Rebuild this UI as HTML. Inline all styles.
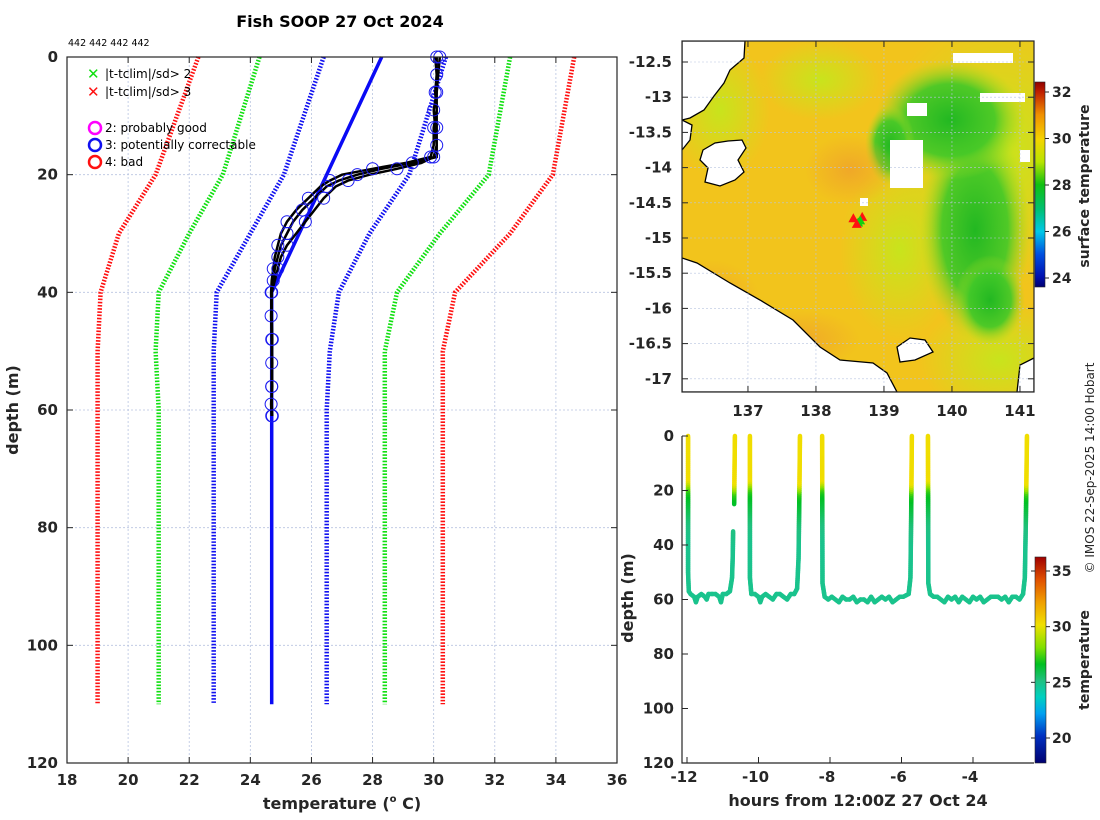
<!DOCTYPE html>
<html><head><meta charset="utf-8"><style>
body{margin:0;background:#fff;}
svg{display:block;font-family:"DejaVu Sans","Liberation Sans",sans-serif;}
.b{font-weight:bold;}
</style></head><body>
<svg id="s" width="1100" height="820" viewBox="0 0 1100 820">
<defs>
<clipPath id="mapclip"><rect x="682" y="41" width="352" height="351"/></clipPath>
<linearGradient id="cb1" x1="0" y1="1" x2="0" y2="0">
<stop offset="0" stop-color="#000070"/><stop offset="0.05" stop-color="#0010b0"/><stop offset="0.16" stop-color="#0050e0"/><stop offset="0.27" stop-color="#00c8e8"/><stop offset="0.38" stop-color="#00c070"/><stop offset="0.50" stop-color="#10c010"/><stop offset="0.61" stop-color="#b8e400"/><stop offset="0.72" stop-color="#f4d400"/><stop offset="0.84" stop-color="#f09000"/><stop offset="0.95" stop-color="#c02000"/><stop offset="1" stop-color="#900000"/></linearGradient>
<linearGradient id="cb2" x1="0" y1="1" x2="0" y2="0">
<stop offset="0" stop-color="#000070"/><stop offset="0.13" stop-color="#0030c0"/><stop offset="0.24" stop-color="#00a0f0"/><stop offset="0.32" stop-color="#00d0c0"/><stop offset="0.40" stop-color="#20c080"/><stop offset="0.48" stop-color="#00c020"/><stop offset="0.56" stop-color="#80e000"/><stop offset="0.67" stop-color="#f0e000"/><stop offset="0.78" stop-color="#f0a000"/><stop offset="0.89" stop-color="#e05000"/><stop offset="1" stop-color="#a00000"/></linearGradient>
<radialGradient id="g1" cx="0.5" cy="0.5" r="0.5"><stop offset="0" stop-color="#22b822"/><stop offset="0.6" stop-color="#40c828" stop-opacity="0.9"/><stop offset="1" stop-color="#a8dc20" stop-opacity="0"/></radialGradient>
<radialGradient id="g2" cx="0.5" cy="0.5" r="0.5"><stop offset="0" stop-color="#c8e41c"/><stop offset="1" stop-color="#c8e41c" stop-opacity="0"/></radialGradient>
<radialGradient id="g3" cx="0.5" cy="0.5" r="0.5"><stop offset="0" stop-color="#f0a828"/><stop offset="1" stop-color="#f0a828" stop-opacity="0"/></radialGradient>
</defs>
<g id="main"></g>
<g id="map"></g>
<g id="bot"></g>
</svg>
<script>
// ===== left chart data =====
const tickX=[18,20,22,24,26,28,30,32,34,36];
const tickY=[0,20,40,60,80,100,120];
const climDepth=[0,20,30,40,50,60,110];
const climRed1=[22.3,20.9,19.7,19.1,19.0,19.0,19.0];
const climGreen1=[24.3,23.1,22.0,21.0,20.9,21.0,21.0];
const climBlue1=[26.4,25.1,24.0,22.9,22.8,22.8,22.8];
const climBlue2=[30.4,29.2,27.9,26.9,26.6,26.5,26.5];
const climGreen2=[32.5,31.8,30.2,28.8,28.4,28.4,28.4];
const climRed2=[34.6,33.9,32.5,30.7,30.3,30.3,30.3];
const solidDepth=[0,40,110];
const solidTemp=[28.3,24.7,24.7];
const profDepth=[0,3,6,9,12,15,17,18,19,20,21,22,24,26,28,30,32,34,36,38,40,44,48,52,56,59,61];
const profA=[30.1,30.1,30.05,30.1,30.1,30.1,30.0,29.6,28.8,27.9,27.2,26.8,26.4,26.1,25.8,25.5,25.2,25.0,24.9,24.8,24.7,24.7,24.7,24.72,24.7,24.7,24.72];
const profB=[30.05,30.1,30.1,30.0,30.05,30.1,30.1,29.3,28.3,27.5,26.9,26.5,26.1,25.7,25.4,25.2,25.0,24.9,24.8,24.75,24.7,24.68,24.7,24.7,24.72,24.68,24.7];
const profC=[30.2,30.15,30.1,30.1,30.0,30.0,29.9,29.1,28.0,27.0,26.6,26.3,25.9,25.5,25.2,25.0,24.9,24.8,24.75,24.7,24.68,24.7,24.72,24.7,24.7,24.7,24.7];
// ===== map data =====
const latTicks=[-12.5,-13,-13.5,-14,-14.5,-15,-15.5,-16,-16.5,-17];
const lonTicks=[137,138,139,140,141];
const sstTicks=[24,26,28,30,32];
const shipLon=[138.55,138.62,138.68,138.65,138.6];
const shipLat=[-14.72,-14.78,-14.7,-14.75,-14.8];
// ===== bottom chart data =====
const hourTicks=[-12,-10,-8,-6,-4];
const bdepthTicks=[0,20,40,60,80,100,120];
const tempTicks=[20,25,30,35];
const seg1H=[-11.97,-11.97,-11.95,-11.9,-11.8,-11.75,-11.7,-11.6,-11.5,-11.45,-11.4,-11.3,-11.2,-11.1,-11.05,-11.0,-10.9,-10.8,-10.74,-10.72,-10.71];
const seg1D=[0,50,57,58,59,61,59,58,59,60,58,58,58,59,61,58,58,57,52,44,35];
const seg1bH=[-10.68,-10.67,-10.66];
const seg1bD=[25,12,0];
const seg2H=[-10.24,-10.24,-10.2,-10.1,-10.0,-9.95,-9.9,-9.8,-9.7,-9.6,-9.5,-9.4,-9.3,-9.2,-9.1,-9.0,-8.92,-8.88,-8.86,-8.84];
const seg2D=[0,52,58,58,59,61,59,58,59,60,58,58,59,60,58,58,56,45,25,0];
const seg3H=[-8.22,-8.21,-8.15,-8.05,-7.95,-7.85,-7.75,-7.65,-7.55,-7.45,-7.35,-7.25,-7.15,-7.05,-6.95,-6.85,-6.75,-6.65,-6.55,-6.45,-6.35,-6.25,-6.15,-6.05,-5.95,-5.8,-5.75,-5.73,-5.71];
const seg3D=[0,54,59,60,59,60,61,59,60,60,59,61,60,60,61,59,61,60,59,60,59,61,60,59,59,58,52,30,0];
const seg4H=[-5.26,-5.25,-5.2,-5.1,-5.0,-4.9,-4.8,-4.7,-4.6,-4.5,-4.4,-4.3,-4.2,-4.1,-4.0,-3.9,-3.8,-3.7,-3.6,-3.5,-3.4,-3.3,-3.2,-3.1,-3.0,-2.9,-2.8,-2.7,-2.6,-2.55,-2.52,-2.49];
const seg4D=[0,54,58,59,59,60,61,59,60,59,61,59,60,61,59,60,59,61,60,59,59,59,60,59,61,59,59,60,58,52,30,0];

const NS='http://www.w3.org/2000/svg';
function mk(tag,attrs,parent,txt){const e=document.createElementNS(NS,tag);for(const k in attrs)e.setAttribute(k,attrs[k]);if(txt!==undefined)e.textContent=txt;parent.appendChild(e);return e;}
const svg=document.getElementById('s');
const M=document.getElementById('main');
// ---- main axes ----
const X0=67,X1=617,Y0=57,Y1=763;
const xs=t=>X0+(t-18)/(36-18)*(X1-X0);
const ys=d=>Y0+d/120*(Y1-Y0);
let t=mk('text',{x:340,y:27,'text-anchor':'middle','font-size':16,class:'b'},svg,'Fish SOOP 27 Oct 2024');


t=mk('text',{x:68,y:46,'font-size':9.5},svg,'442 442 442 442');


tickX.forEach(v=>{
 const g=mk('line',{x1:xs(v),x2:xs(v),y1:Y0,y2:Y1,stroke:'#b8c4e0','stroke-width':0.8,'stroke-dasharray':'2,2'},M);
 
 
 const tk=mk('text',{x:xs(v),y:785,'text-anchor':'middle','font-size':15,class:'b',fill:'#262626'},M,String(v));
 
 
 mk('line',{x1:xs(v),x2:xs(v),y1:Y1,y2:Y1-6,stroke:'#262626'},M);
 mk('line',{x1:xs(v),x2:xs(v),y1:Y0,y2:Y0+6,stroke:'#262626'},M);
});
tickY.forEach(v=>{
 const g=mk('line',{x1:X0,x2:X1,y1:ys(v),y2:ys(v),stroke:'#b8c4e0','stroke-width':0.8,'stroke-dasharray':'2,2'},M);
 
 
 const tk=mk('text',{x:X0-9,y:ys(v)+5,'text-anchor':'end','font-size':15,class:'b',fill:'#262626'},M,String(v));
 
 
 mk('line',{x1:X0,x2:X0+6,y1:ys(v),y2:ys(v),stroke:'#262626'},M);
 mk('line',{x1:X1,x2:X1-6,y1:ys(v),y2:ys(v),stroke:'#262626'},M);
});
function line(depths,temps,attrs,name){
 const p=depths.map((d,i)=>xs(temps[i]).toFixed(1)+','+ys(d).toFixed(1)).join(' ');
 const e=mk('polyline',Object.assign({points:p,fill:'none'},attrs),M);
 
 
 return e;
}
const dash={'stroke-width':4.5,'stroke-dasharray':'1.6,1.6'};
line(climDepth,climRed1,Object.assign({stroke:'#ff1010'},dash),'clim-minus-3sd-line');
line(climDepth,climGreen1,Object.assign({stroke:'#10e010'},dash),'clim-minus-2sd-line');
line(climDepth,climBlue1,Object.assign({stroke:'#1010f0'},dash),'clim-minus-1sd-line');
line(climDepth,climBlue2,Object.assign({stroke:'#1010f0'},dash),'clim-plus-1sd-line');
line(climDepth,climGreen2,Object.assign({stroke:'#10e010'},dash),'clim-plus-2sd-line');
line(climDepth,climRed2,Object.assign({stroke:'#ff1010'},dash),'clim-plus-3sd-line');
line(solidDepth,solidTemp,{stroke:'#0a0af5','stroke-width':3.5},'climatology-mean-line');
[profA,profB,profC].forEach((p,k)=>{
 line(profDepth,p,{stroke:'#000','stroke-width':2.5},'profile-line');
});
[profA,profB,profC].forEach((p,k)=>{
 profDepth.forEach((d,i)=>{
  if((i+k)%2) return;
  const c=mk('circle',{cx:xs(p[i]),cy:ys(d),r:6,fill:'none',stroke:'#1a1af0','stroke-width':1},M);
  
  
 });
});
let fr=mk('rect',{x:X0,y:Y0,width:X1-X0,height:Y1-Y0,fill:'none',stroke:'#262626','stroke-width':1.2},M);


// legend
const lg=mk('g',{},M);


[['#10e010','|t-tclim|/sd> 2',74],['#ff1010','|t-tclim|/sd> 3',92]].forEach(a=>{
 const x=mk('text',{x:87,y:a[2]+5,'font-size':15,fill:a[0],class:'b'},lg,'✕');
 
 
 const tx=mk('text',{x:105,y:a[2]+4,'font-size':12},lg,a[1]);
 
 
});
[['#ff00ff','2: probably good',128],['#1010f0','3: potentially correctable',145],['#ff1010','4: bad',162]].forEach(a=>{
 const c=mk('circle',{cx:95,cy:a[2],r:6,fill:'none',stroke:a[0],'stroke-width':2.5},lg);
 
 
 const tx=mk('text',{x:105,y:a[2]+4,'font-size':12},lg,a[1]);
 
 
});
t=mk('text',{x:342,y:809,'text-anchor':'middle','font-size':16,class:'b',fill:'#262626'},svg);
t.innerHTML='temperature (<tspan font-size="10" dy="-7">o</tspan><tspan dy="7"> C)</tspan>';


t=mk('text',{x:0,y:0,'text-anchor':'middle','font-size':16,class:'b',fill:'#262626',transform:'translate(18,410) rotate(-90)'},svg,'depth (m)');



// ---- map ----
const MP=document.getElementById('map');
const mx=l=>682+(l-136.03)*68;
const my=l=>62+(-12.5-l)*70.4;
const mg=mk('g',{'clip-path':'url(#mapclip)'},MP);


mk('rect',{x:682,y:41,width:352,height:351,fill:'#f2c41c'},mg);
mk('ellipse',{cx:720,cy:110,rx:50,ry:70,fill:'url(#g2)'},mg);
mk('ellipse',{cx:820,cy:80,rx:60,ry:40,fill:'url(#g2)'},mg);
mk('ellipse',{cx:1000,cy:150,rx:120,ry:140,fill:'url(#g2)'},mg);
mk('ellipse',{cx:1000,cy:360,rx:80,ry:60,fill:'url(#g2)'},mg);
mk('ellipse',{cx:900,cy:250,rx:60,ry:90,fill:'url(#g2)'},mg);
mk('ellipse',{cx:975,cy:230,rx:55,ry:110,fill:'url(#g1)'},mg);
mk('ellipse',{cx:950,cy:120,rx:75,ry:60,fill:'url(#g1)'},mg);
mk('ellipse',{cx:990,cy:300,rx:35,ry:45,fill:'url(#g1)'},mg);
mk('ellipse',{cx:890,cy:145,rx:25,ry:40,fill:'url(#g1)'},mg);
mk('ellipse',{cx:710,cy:300,rx:50,ry:40,fill:'url(#g3)'},mg);
mk('ellipse',{cx:800,cy:340,rx:60,ry:30,fill:'url(#g3)'},mg);
mk('ellipse',{cx:850,cy:170,rx:45,ry:35,fill:'url(#g3)'},mg);
[[890,140,33,48],[953,53,60,10],[980,93,45,9],[907,103,20,13],[860,198,8,8],[1020,150,10,12]].forEach(r=>{
 mk('rect',{x:r[0],y:r[1],width:r[2],height:r[3],fill:'#fff'},mg);
});
const landStyle={fill:'#fff',stroke:'#000','stroke-width':1.3};
let ld=mk('polygon',Object.assign({points:'682,41 745,41 744,58 730,70 724,83 714,96 704,110 690,118 682,120'},landStyle),mg);


ld=mk('polygon',Object.assign({points:'703,150 715,143 728,141 742,140 746,148 738,160 744,172 735,180 720,186 705,182 708,168 700,160'},landStyle),mg);


ld=mk('polygon',Object.assign({points:'682,258 697,263 730,283 760,300 793,320 820,347 840,360 873,363 887,373 897,392 682,392'},landStyle),mg);


ld=mk('polygon',Object.assign({points:'897,347 910,338 925,340 933,352 915,360 900,362'},landStyle),mg);


ld=mk('polygon',Object.assign({points:'1034,358 1020,365 1017,392 1034,392'},landStyle),mg);


ld=mk('polygon',Object.assign({points:'682,120 692,125 690,140 682,150'},landStyle),mg);


shipLon.forEach((l,i)=>{
 const x=mx(l),y=my(shipLat[i]);
 const c=i%2?'#10d010':'#ff1010';
 const tr=mk('polygon',{points:`${x-5},${y+4} ${x+5},${y+4} ${x},${y-5}`,fill:c},mg);
 
 
});
fr=mk('rect',{x:682,y:41,width:352,height:351,fill:'none',stroke:'#262626','stroke-width':1.2},MP);


latTicks.forEach(v=>{
 mk('line',{x1:682,x2:1034,y1:my(v),y2:my(v),stroke:'#b8c4e0','stroke-width':0.6,'stroke-dasharray':'2,2'},MP);
 const tk=mk('text',{x:672,y:my(v)+5,'text-anchor':'end','font-size':15,class:'b',fill:'#262626'},MP,String(v));
 
 
 mk('line',{x1:682,x2:688,y1:my(v),y2:my(v),stroke:'#262626'},MP);
 mk('line',{x1:1034,x2:1028,y1:my(v),y2:my(v),stroke:'#262626'},MP);
});
lonTicks.forEach(v=>{
 mk('line',{x1:mx(v),x2:mx(v),y1:41,y2:392,stroke:'#b8c4e0','stroke-width':0.6,'stroke-dasharray':'2,2'},MP);
 const tk=mk('text',{x:mx(v),y:416,'text-anchor':'middle','font-size':15,class:'b',fill:'#262626'},MP,String(v));
 
 
 mk('line',{x1:mx(v),x2:mx(v),y1:41,y2:47,stroke:'#262626'},MP);
 mk('line',{x1:mx(v),x2:mx(v),y1:392,y2:386,stroke:'#262626'},MP);
});
const cb1y=v=>92+(32-v)*(278-92)/8;
let cb=mk('rect',{x:1035,y:82,width:10,height:205,fill:'url(#cb1)',stroke:'#262626','stroke-width':0.6},MP);


sstTicks.forEach(v=>{
 mk('line',{x1:1045,x2:1049,y1:cb1y(v),y2:cb1y(v),stroke:'#262626'},MP);
 const tk=mk('text',{x:1052,y:cb1y(v)+5,'font-size':14,class:'b',fill:'#262626'},MP,String(v));
 
 
});
t=mk('text',{x:0,y:0,'text-anchor':'middle','font-size':14,class:'b',fill:'#262626',transform:'translate(1089,186) rotate(-90)'},MP,'surface temperature');


t=mk('text',{x:0,y:0,'text-anchor':'middle','font-size':12,fill:'#262626',transform:'translate(1094,468) rotate(-90)'},svg,'© IMOS 22-Sep-2025 14:00 Hobart');



// ---- bottom chart ----
const B=document.getElementById('bot');
const bx=h=>687+(h+12)*35.75;
const by=d=>436+d*(763-436)/120;
const cmapT=[17.7,20,22,23.5,25,26.5,28,30,32,34,36];
const cmapC=['#000070','#0030c0','#00a0f0','#00d0c0','#20c080','#00c020','#80e000','#f0e000','#f0a000','#e05000','#a00000'];
function hex(c){return [1,3,5].map(i=>parseInt(c.substr(i,2),16));}
function col(v){
 for(let i=0;i<cmapT.length-1;i++){if(v<=cmapT[i+1]){const f=Math.max(0,(v-cmapT[i])/(cmapT[i+1]-cmapT[i]));const a=hex(cmapC[i]),b=hex(cmapC[i+1]);return 'rgb('+a.map((x,k)=>Math.round(x+(b[k]-x)*f)).join(',')+')';}}
 return cmapC[cmapC.length-1];
}
function tempAt(d){
 for(let i=0;i<profDepth.length-1;i++){if(d<=profDepth[i+1]){const f=(d-profDepth[i])/(profDepth[i+1]-profDepth[i]);return profA[i]+(profA[i+1]-profA[i])*f;}}
 return profA[profA.length-1];
}
function track(H,D){
 for(let i=0;i<H.length-1;i++){
  const n=Math.max(1,Math.ceil(Math.abs(by(D[i+1])-by(D[i]))/2));
  for(let k=0;k<n;k++){
   const h1=H[i]+(H[i+1]-H[i])*k/n,d1=D[i]+(D[i+1]-D[i])*k/n;
   const h2=H[i]+(H[i+1]-H[i])*(k+1)/n,d2=D[i]+(D[i+1]-D[i])*(k+1)/n;
   const s=mk('line',{x1:bx(h1),y1:by(d1),x2:bx(h2),y2:by(d2),stroke:col(tempAt((d1+d2)/2)),'stroke-width':4.5,'stroke-linecap':'round'},B);
   
   
  }
 }
}
track(seg1H,seg1D);track(seg1bH,seg1bD);track(seg2H,seg2D);track(seg3H,seg3D);track(seg4H,seg4D);
let ax=mk('path',{d:'M682,436 V763 H1034',fill:'none',stroke:'#262626','stroke-width':1.2},B);


bdepthTicks.forEach(v=>{
 mk('line',{x1:682,x2:688,y1:by(v),y2:by(v),stroke:'#262626'},B);
 const tk=mk('text',{x:674,y:by(v)+5,'text-anchor':'end','font-size':15,class:'b',fill:'#262626'},B,String(v));
 
 
});
hourTicks.forEach(v=>{
 mk('line',{x1:bx(v),x2:bx(v),y1:763,y2:757,stroke:'#262626'},B);
 const tk=mk('text',{x:bx(v)-3,y:782,'text-anchor':'middle','font-size':15,class:'b',fill:'#262626'},B,String(v));
 
 
});
const cb2y=v=>571+(35-v)*(738-571)/15;
cb=mk('rect',{x:1035,y:557,width:11,height:206,fill:'url(#cb2)',stroke:'#262626','stroke-width':0.6},B);


tempTicks.forEach(v=>{
 mk('line',{x1:1046,x2:1050,y1:cb2y(v),y2:cb2y(v),stroke:'#262626'},B);
 mk('line',{x1:1035,x2:1031,y1:cb2y(v),y2:cb2y(v),stroke:'#262626'},B);
 const tk=mk('text',{x:1052,y:cb2y(v)+5,'font-size':14,class:'b',fill:'#262626'},B,String(v));
 
 
});
t=mk('text',{x:0,y:0,'text-anchor':'middle','font-size':14,class:'b',fill:'#262626',transform:'translate(1089,660) rotate(-90)'},B,'temperature');


t=mk('text',{x:858,y:806,'text-anchor':'middle','font-size':16,class:'b',fill:'#262626'},B,'hours from 12:00Z 27 Oct 24');


t=mk('text',{x:0,y:0,'text-anchor':'middle','font-size':16,class:'b',fill:'#262626',transform:'translate(633,598) rotate(-90)'},B,'depth (m)');


</script>
</body></html>
